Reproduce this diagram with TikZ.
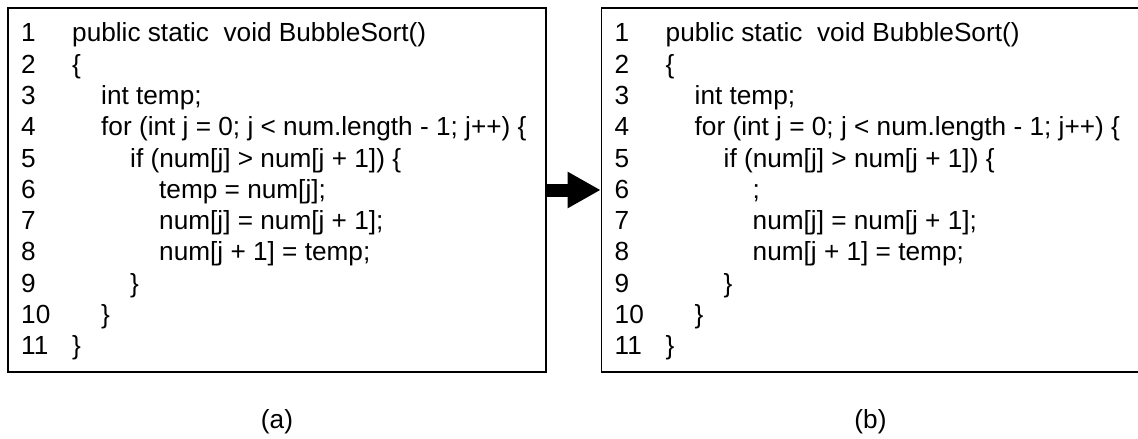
\documentclass[tikz,border=0pt]{standalone}
\usepackage{fontspec}
\setmainfont{Liberation Sans}
\usetikzlibrary{arrows.meta}
\begin{document}
\begin{tikzpicture}[x=1pt,y=-1pt,
  codebox/.style={draw,line width=1.6pt,minimum width=538pt,minimum height=364pt,inner sep=0pt},
  codeline/.style={anchor=base west,inner sep=0pt,font=\fontsize{26.2}{31.3}\selectfont},
  caption/.style={anchor=base,inner sep=0pt,font=\fontsize{26.2}{31.3}\selectfont},
  fatarrow/.style={line width=13pt,-{Triangle[length=33pt,width=34pt]}}]
\useasboundingbox (0,0) rectangle (1138,439);
\node[codebox] (boxa) at (277,190) {};
\node[codebox] (boxb) at (870.5,190) {};
\foreach \i in {1,...,11} {
  \node[codeline] (na\i) at (21,{41.8+31.3*(\i-1)}) {\i};
  \node[codeline] (nb\i) at (614.5,{41.8+31.3*(\i-1)}) {\i};
}
% left listing
\node[codeline] (a1) at (72,41.8) {public static~~void BubbleSort()};
\node[codeline] (a2) at (72,73.1) {\{};
\node[codeline] (a3) at (101,104.4) {int temp;};
\node[codeline] (a4) at (101,135.7) {for (int j = 0; j < num.length - 1; j++) \{};
\node[codeline] (a5) at (130,167) {if (num[j] > num[j + 1]) \{};
\node[codeline] (a6) at (159,198.3) {temp = num[j];};
\node[codeline] (a7) at (159,229.6) {num[j] = num[j + 1];};
\node[codeline] (a8) at (159,260.9) {num[j + 1] = temp;};
\node[codeline] (a9) at (130,292.2) {\}};
\node[codeline] (a10) at (101,323.5) {\}};
\node[codeline] (a11) at (72,354.8) {\}};
% right listing
\node[codeline] (b1) at (665.5,41.8) {public static~~void BubbleSort()};
\node[codeline] (b2) at (665.5,73.1) {\{};
\node[codeline] (b3) at (694.5,104.4) {int temp;};
\node[codeline] (b4) at (694.5,135.7) {for (int j = 0; j < num.length - 1; j++) \{};
\node[codeline] (b5) at (723.5,167) {if (num[j] > num[j + 1]) \{};
\node[codeline] (b6) at (752.5,198.3) {;};
\node[codeline] (b7) at (752.5,229.6) {num[j] = num[j + 1];};
\node[codeline] (b8) at (752.5,260.9) {num[j + 1] = temp;};
\node[codeline] (b9) at (723.5,292.2) {\}};
\node[codeline] (b10) at (694.5,323.5) {\}};
\node[codeline] (b11) at (665.5,354.8) {\}};
% captions
\node[caption] (capa) at (277,428) {(a)};
\node[caption] (capb) at (870.5,428) {(b)};
% arrow
\draw[fatarrow] (boxa.east) -- (boxb.west);
\end{tikzpicture}
\end{document}
